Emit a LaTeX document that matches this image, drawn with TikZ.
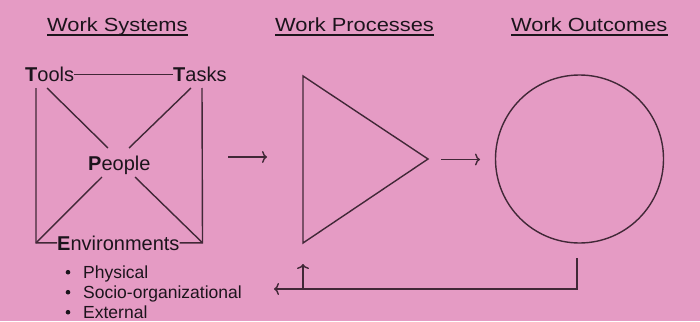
\documentclass[tikz,border=0pt]{standalone}
\usepackage{fontspec}
\setmainfont{Liberation Sans}
\usetikzlibrary{arrows.meta}
\definecolor{bgpink}{RGB}{229,155,196}
\definecolor{ink}{RGB}{28,20,28}
\definecolor{wire}{RGB}{65,40,55}
\tikzset{
  title/.style={anchor=base west, inner sep=0pt, text=ink,
    font=\fontsize{19}{22}\selectfont},
  item/.style={anchor=base west, inner sep=0pt, text=ink,
    font=\fontsize{20}{24}\selectfont},
  bullettext/.style={anchor=base west, inner sep=0pt, text=ink,
    font=\fontsize{17.5}{21}\selectfont},
  link/.style={draw=wire, line width=1.4pt},
  flow/.style={link, -{To[length=5pt,width=12pt]}},
  uline/.style={draw=ink, line width=1.6pt},
}
\newcommand{\widetitle}[1]{\scalebox{1.15}[1]{#1}}
\begin{document}
\begin{tikzpicture}[x=1pt,y=-1pt]
  % canvas
  \fill[bgpink] (0,0) rectangle (700,321);
  \useasboundingbox (0,0) rectangle (700,321);

  % column headings
  \node[title] (hsys)  at (47,31.7)  {\widetitle{Work Systems}};
  \node[title] (hproc) at (275,31.7) {\widetitle{Work Processes}};
  \node[title] (hout)  at (511,31.7) {\widetitle{Work Outcomes}};
  \foreach \h in {hsys,hproc,hout}
    \draw[uline] ([yshift=-3.6pt]\h.base west) -- ([yshift=-3.6pt]\h.base east);

  % work system elements
  \node[item] (tools)  at (25,81.7)  {\textbf{T}ools};
  \node[item] (tasks)  at (173,81.7) {\textbf{T}asks};
  \node[item] (people) at (88,170)   {\textbf{P}eople};
  \node[item] (env)    at (57,250)   {\textbf{E}nvironments};

  % frame corners and diagonal ends
  \coordinate (tl) at (36,88);
  \coordinate (tr) at (202,88);
  \coordinate (bl) at (36,242.8);
  \coordinate (br) at (202.5,242.8);
  \coordinate (d1a) at (47,88);   \coordinate (d1b) at (108,148);
  \coordinate (d2a) at (191,88);  \coordinate (d2b) at (129,148);
  \coordinate (d3a) at (102,177);
  \coordinate (d4a) at (135,177);

  \draw[link] (tools.east) -- (tasks.west);
  \draw[link] (tl) -- (bl) -- (env.west);
  \draw[link] (tr) -- (br) -- (env.east);
  \draw[link] (d1a) -- (d1b);
  \draw[link] (d2a) -- (d2b);
  \draw[link] (d3a) -- (bl);
  \draw[link] (d4a) -- (br);

  % environment kinds
  \node[bullettext] (phys) at (83,278)   {Physical};
  \node[bullettext] (soc)  at (83,298)   {Socio-organizational};
  \node[bullettext] (ext)  at (83,318)   {External};
  \foreach \b in {phys,soc,ext}
    \fill[ink] ([xshift=-15pt,yshift=5.8pt]\b.base west) circle (2.3pt);

  % process and outcome
  \coordinate (ptop) at (303,76);
  \coordinate (papex) at (428,159);
  \coordinate (pbot) at (303,243);
  \draw[link, line join=miter] (ptop) -- (papex) -- (pbot) -- cycle;
  \node[draw=wire, line width=1.4pt, circle, minimum size=168pt, inner sep=0pt]
    (outcome) at (579.5,159) {};

  % flow arrows
  \coordinate (a1s) at (228,157);  \coordinate (a1e) at (267,157);
  \coordinate (a2s) at (441,159.5);\coordinate (a2e) at (480,159.5);
  \draw[flow] (a1s) -- (a1e);
  \draw[flow] (a2s) -- (a2e);

  % feedback loop
  \coordinate (fbtop) at (577,258);
  \coordinate (fbcorner) at (577,289);
  \coordinate (fbend) at (274,289);
  \coordinate (fbup) at (303,289);
  \coordinate (fbtip) at (303,264);
  \draw[flow] (fbtop) -- (fbcorner) -- (fbend);
  \draw[flow] (fbup) -- (fbtip);
\end{tikzpicture}
\end{document}
